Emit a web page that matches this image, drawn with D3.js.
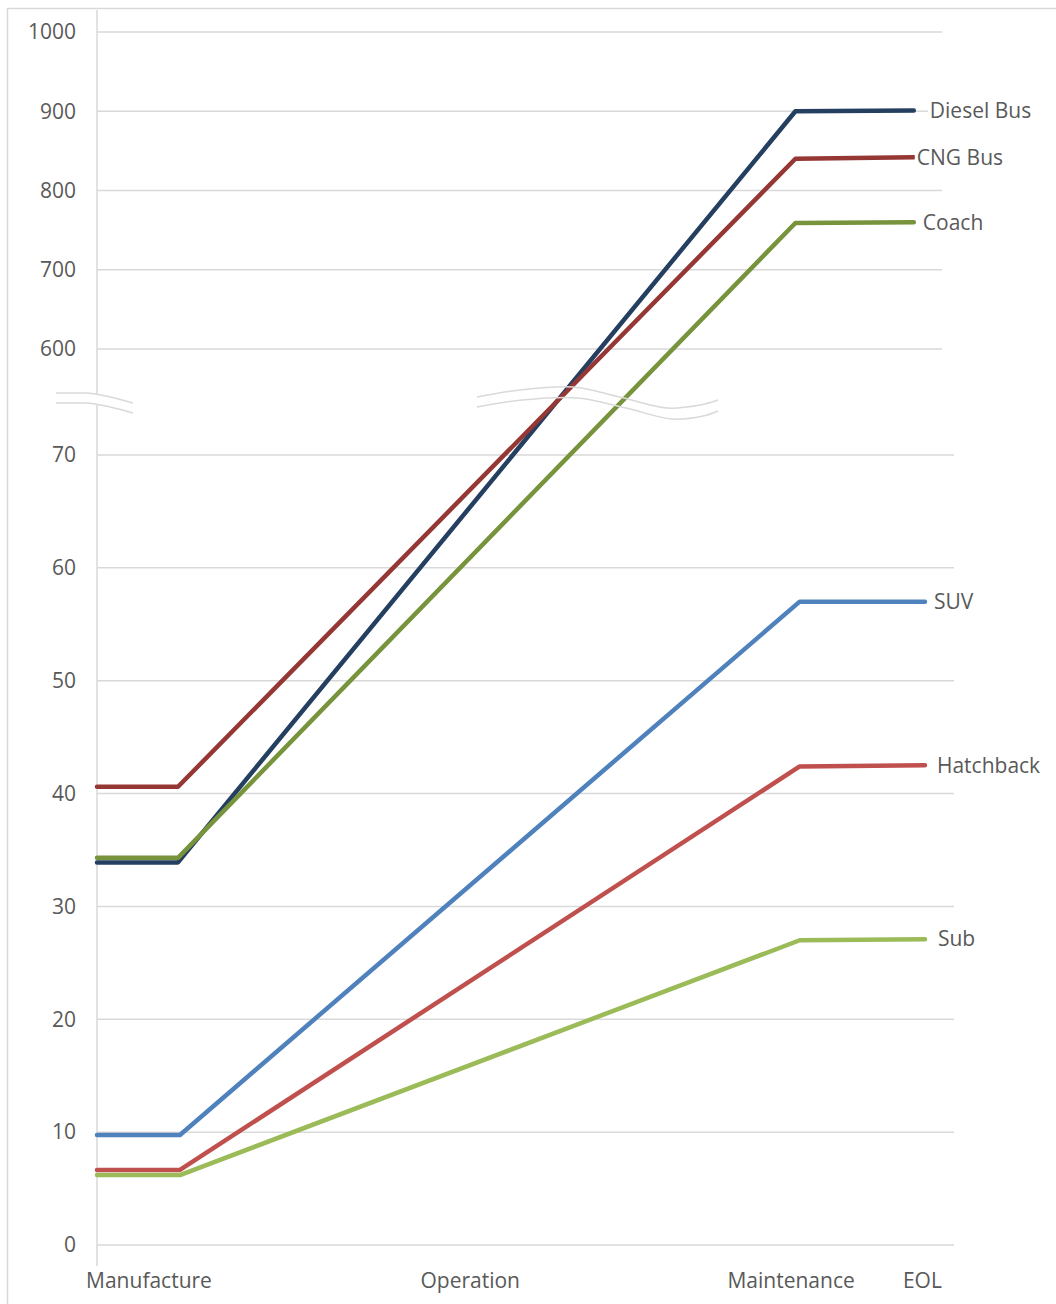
<!DOCTYPE html>
<html>
<head>
<meta charset="utf-8">
<script src="https://cdn.jsdelivr.net/npm/d3@7/dist/d3.min.js"></script>
<style>
  html, body { margin: 0; padding: 0; background: #fff; }
  svg { display: block; }
  text { font-family: "Open Sans", "Liberation Sans", sans-serif; fill: #595959; }
</style>
</head>
<body>
<svg id="chart" width="1056" height="1304"></svg>
<script>
// Life-cycle stages along the horizontal axis and where their labels sit (0–100 progress units)
const stages = ["Manufacture", "Operation", "Maintenance", "EOL"];
const stageLabelAt = [6.06, 43.5, 80.9, 96.2];

// Progress positions of each series' vertices (start, end of manufacture, end of maintenance, EOL)
const busProgress = [0, 9.44, 81.4, 95.2];
const carProgress = [0, 9.67, 81.9, 96.5];

// Cumulative emissions per vehicle type
const seriesNames = ["Diesel Bus", "CNG Bus", "Coach", "SUV", "Hatchback", "Sub"];
const dieselBus = [33.9, 33.9, 900, 901];
const cngBus    = [40.6, 40.6, 840, 842];
const coach     = [34.3, 34.3, 759, 760];
const suv       = [9.75, 9.75, 57.0, 57.0];
const hatchback = [6.65, 6.65, 42.4, 42.5];
const sub       = [6.2, 6.2, 27.0, 27.1];

// Tick values on the two sides of the broken value axis
const lowerTicks = [0, 10, 20, 30, 40, 50, 60, 70];
const upperTicks = [600, 700, 800, 900, 1000];

const series = [
  { name: seriesNames[0], values: dieselBus, progress: busProgress, color: "#243f60", dx: 16 },
  { name: seriesNames[1], values: cngBus,    progress: busProgress, color: "#953735", dx: 3 },
  { name: seriesNames[2], values: coach,     progress: busProgress, color: "#77933c", dx: 9 },
  { name: seriesNames[3], values: suv,       progress: carProgress, color: "#4f81bd", dx: 9 },
  { name: seriesNames[4], values: hatchback, progress: carProgress, color: "#c0504d", dx: 12 },
  { name: seriesNames[5], values: sub,       progress: carProgress, color: "#9bbb59", dx: 13 }
];

const svg = d3.select("#chart");
const FONT = 21;

// Frame
svg.append("rect")
  .attr("x", 7.5).attr("y", 8.5).attr("width", 1100).attr("height", 1400)
  .attr("fill", "none").attr("stroke", "#d9d9d9").attr("stroke-width", 1.5);

const x = d3.scaleLinear().domain([0, 100]).range([97, 955]);

// Broken value scale: 0–74.6 on the lower panel, 531.8–1000 on the upper one
const breakY = 403;
const y = d3.scaleLinear()
  .domain([0, 74.6, 531.8, 1000])
  .range([1245, breakY, breakY, 32]);

const grid = svg.append("g").attr("stroke", "#d9d9d9").attr("stroke-width", 1.5);
lowerTicks.forEach(t => {
  grid.append("line")
    .attr("x1", x(0)).attr("x2", 954)
    .attr("y1", y(t)).attr("y2", y(t));
});
upperTicks.forEach(t => {
  grid.append("line")
    .attr("x1", x(0)).attr("x2", 942)
    .attr("y1", y(t)).attr("y2", y(t));
});

// Vertical axis line (with a small stub below zero)
svg.append("line")
  .attr("x1", x(0)).attr("x2", x(0))
  .attr("y1", 10).attr("y2", 1266)
  .attr("stroke", "#d9d9d9").attr("stroke-width", 1.5);

// Tick labels
const tickLabels = svg.append("g").attr("text-anchor", "end").attr("font-size", FONT);
lowerTicks.concat(upperTicks).forEach(t => {
  tickLabels.append("text")
    .attr("x", 76).attr("y", y(t))
    .attr("dy", "0.35em")
    .text(t);
});

// Category labels along the bottom
svg.append("g").attr("text-anchor", "middle").attr("font-size", FONT)
  .selectAll("text").data(stages).join("text")
  .attr("x", (d, i) => x(stageLabelAt[i]))
  .attr("y", 1288)
  .text(d => d);

// Series lines
const line = d3.line()
  .x(d => x(d[0]))
  .y(d => y(d[1]));

const lines = svg.append("g");
series.forEach(s => {
  const pts = s.values.map((v, i) => [s.progress[i], v]);
  lines.append("path")
    .attr("d", line(pts))
    .attr("fill", "none")
    .attr("stroke", s.color)
    .attr("stroke-width", 4.5)
    .attr("stroke-linejoin", "round")
    .attr("stroke-linecap", "round");
});

// Axis break marks
const breakMarks = svg.append("g").attr("fill", "none").attr("stroke", "#d9d9d9").attr("stroke-width", 1.5);
// gap in the vertical axis between the two wavy strokes
breakMarks.append("rect")
  .attr("x", x(0) - 2).attr("y", 395).attr("width", 4).attr("height", 9)
  .attr("fill", "#fff").attr("stroke", "none");
const axisWave = d3.line().curve(d3.curveMonotoneX);
[0, 10].forEach(off => {
  breakMarks.append("path")
    .attr("d", axisWave([[56, 393 + off], [85, 393 + off], [110, 397 + off], [133, 403 + off]]));
});
const seriesWave = d3.line().curve(d3.curveCatmullRom);
[
  [[477, 397], [520, 390], [573, 387], [620, 397], [667, 408], [700, 405], [718, 400]],
  [[477, 407], [522, 400], [578, 398], [626, 408], [672, 419], [703, 416], [718, 411]]
].forEach(pts => {
  breakMarks.append("path").attr("d", seriesWave(pts));
});

// Series labels at the end of each line
const labels = svg.append("g").attr("font-size", FONT);
series.forEach(s => {
  const last = s.values.length - 1;
  const lx = x(s.progress[last]) + s.dx;
  const ly = y(s.values[last]);
  const t = labels.append("text")
    .attr("x", lx).attr("y", ly)
    .attr("dy", "0.35em")
    .text(s.name);
  const bb = t.node().getBBox();
  labels.insert("rect", () => t.node())
    .attr("x", bb.x - 2).attr("y", bb.y)
    .attr("width", bb.width + 4).attr("height", bb.height)
    .attr("fill", "#fff");
});
</script>
</body>
</html>
